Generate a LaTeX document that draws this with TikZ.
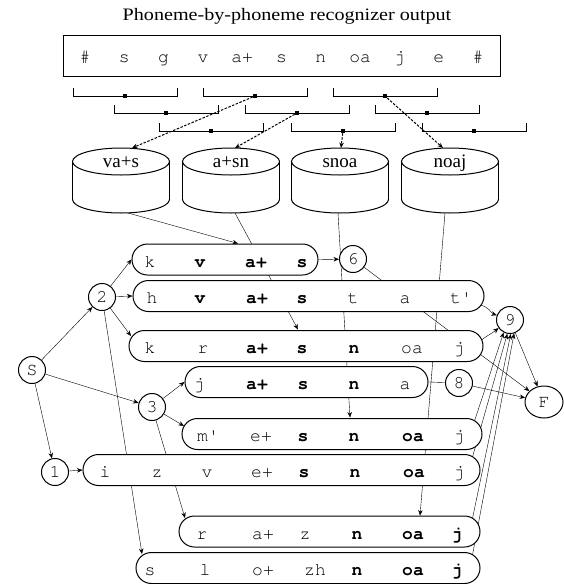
\documentclass[tikz,border=0pt]{standalone}
\usepackage{graphicx}
\usepackage{fontspec}
\setmainfont{Liberation Serif}
\newfontfamily\phonfont{texgyrecursor}[Extension=.otf,UprightFont=*-regular,BoldFont=*-bold]
\usetikzlibrary{shapes.misc,shapes.geometric,arrows.meta,calc}
\pgfdeclarelayer{bg}
\pgfsetlayers{bg,main}

% one bracket of the three-phoneme windows: left x, y, name of its centre dot
\newcommand\brkt[3]{%
  \draw (#1,#2-8) -- (#1,#2) -- (#1+104,#2) -- (#1+104,#2-8);
  \node[dot] (#3) at (#1+52,#2) {};
}

\begin{document}
\begin{tikzpicture}[x=1pt,y=-1pt,line width=1pt,
  arr/.style={-{Stealth[length=5.5pt,width=4.5pt]}},
  dasharr/.style={arr,dash pattern=on 2.5pt off 1.5pt},
  dot/.style={rectangle,fill=black,minimum size=3.5pt,inner sep=0pt},
  state/.style={circle,draw,fill=white,minimum size=27pt,inner sep=0pt,
    font=\phonfont\fontsize{18}{18}\selectfont},
  pathbox/.style={rounded rectangle,draw,fill=white,minimum height=31pt,inner sep=0pt},
  ph/.style={anchor=base,inner sep=0pt,font=\phonfont\fontsize{18}{18}\selectfont},
  drumlabel/.style={anchor=base,inner sep=0pt,font=\fontsize{19}{19}\selectfont},
]
\useasboundingbox (0,0) rectangle (564,584);

% title and recognizer output
\node[anchor=base,inner sep=0pt,font=\fontsize{17.5}{17.5}\selectfont] (title) at (287,20.5)
  {\scalebox{1.15}[1]{Phoneme-by-phoneme recognizer output}};
\node[draw,minimum width=437pt,minimum height=41pt,inner sep=0pt] (outbox) at (281.5,55.5) {};
\foreach \x/\t [count=\k] in {85/\#,124.3/s,163.6/g,202.9/v,242.2/a+,281.5/s,
    320.8/n,360.1/oa,399.4/j,438.7/e,478/\#}
  \node[ph] (o\k) at (\x,62) {\t};

% sliding windows
\brkt{73}{96}{d11}  \brkt{203}{96}{d12}  \brkt{333}{96}{d13}
\brkt{114}{113}{d21} \brkt{245}{113}{d22} \brkt{375}{113}{d23}
\brkt{159}{131}{d31} \brkt{291}{131}{d32} \brkt{422}{131}{d33}

% lexicon drums
\foreach \cx/\nm/\lab in {121/cyl1/va+s,231/cyl2/a+sn,340/cyl3/snoa,450/cyl4/noaj}{
  \fill[white] (\cx,199.5) ellipse[x radius=48.5,y radius=13.5];
  \fill[white] (\cx-48.5,161.5) rectangle (\cx+48.5,199.5);
  \begin{scope}
    \clip (\cx-50,199.5) rectangle (\cx+50,222);
    \draw (\cx,199.5) ellipse[x radius=48.5,y radius=13.5];
  \end{scope}
  \draw (\cx-48.5,161.5) -- (\cx-48.5,199.5) (\cx+48.5,161.5) -- (\cx+48.5,199.5);
  \draw[fill=white] (\cx,161.5) ellipse[x radius=48.5,y radius=13.5];
  \node[drumlabel] (\nm) at (\cx,167) {\lab};
}
\coordinate (a1) at (132,148);
\coordinate (a2) at (235,148);
\coordinate (a3) at (341,148);
\coordinate (a4) at (443,148);
\draw[dasharr] (d12) -- (a1);
\draw[dasharr] (d22) -- (a2);
\draw[dasharr] (d32) -- (a3);
\draw[dasharr] (d13) -- (a4);

% states
\node[state] (S) at (32,370) {S};
\node[state] (n2) at (102,297) {2};
\node[state] (n3) at (152,407) {3};
\node[state] (n1) at (55,472) {1};
\node[state] (n6) at (353,259) {6};
\node[state] (n9) at (510,320) {9};
\node[state] (n8) at (459,383) {8};
\node[state,ellipse,minimum width=38pt,minimum height=32pt] (F) at (544,402) {F};

% word hypotheses
\node[pathbox,minimum width=186pt] (b1) at (225,259.5) {};
\node[pathbox,minimum width=351pt] (b2) at (308.5,296) {};
\node[pathbox,minimum width=354pt] (b3) at (306,346) {};
\node[pathbox,minimum width=243pt] (b4) at (306.5,382) {};
\node[pathbox,minimum width=300pt] (b5) at (332,434) {};
\node[pathbox,minimum width=397pt] (b6) at (281.5,470) {};
\node[pathbox,minimum width=301pt] (b7) at (329.5,531.5) {};
\node[pathbox,minimum width=344pt] (b8) at (308,568) {};

\foreach \x/\t [count=\k] in {150/k,200/{\bfseries v},256/{\bfseries a+},302/{\bfseries s}}
  \node[ph] (p1-\k) at (\x,267) {\t};
\foreach \x/\t [count=\k] in {152/h,200/{\bfseries v},257/{\bfseries a+},302/{\bfseries s},
    353/t,405/a,461/t'}
  \node[ph] (p2-\k) at (\x,303.5) {\t};
\foreach \x/\t [count=\k] in {150/k,203/r,257/{\bfseries a+},302/{\bfseries s},
    354/{\bfseries n},412/oa,459/j}
  \node[ph] (p3-\k) at (\x,353.5) {\t};
\foreach \x/\t [count=\k] in {199/j,257/{\bfseries a+},303/{\bfseries s},
    354/{\bfseries n},405/a}
  \node[ph] (p4-\k) at (\x,389.5) {\t};
\foreach \x/\t [count=\k] in {208/m',261/e+,303/{\bfseries s},354/{\bfseries n},
    413/{\bfseries oa},459/j}
  \node[ph] (p5-\k) at (\x,441.5) {\t};
\foreach \x/\t [count=\k] in {105/i,157/z,207/v,262/e+,304/{\bfseries s},
    355/{\bfseries n},414/{\bfseries oa},459/j}
  \node[ph] (p6-\k) at (\x,477.5) {\t};
\foreach \x/\t [count=\k] in {202/r,263/a+,305/z,357/{\bfseries n},
    413/{\bfseries oa},457/{\bfseries j}}
  \node[ph] (p7-\k) at (\x,539) {\t};
\foreach \x/\t [count=\k] in {150/s,205/l,263/o+,315/zh,357/{\bfseries n},
    413/{\bfseries oa},457/{\bfseries j}}
  \node[ph] (p8-\k) at (\x,575.5) {\t};

% drum outputs and entry points
\coordinate (c1b) at (128,213);
\coordinate (c2b) at (235,213);
\coordinate (c3b) at (338,213);
\coordinate (c4b) at (445,213);
\coordinate (t1) at (238,243.5);
\coordinate (t2) at (298,329.5);
\coordinate (t3) at (350,417.5);
\coordinate (t4) at (420,515.5);
\coordinate (e23) at (131,336);
\coordinate (e28) at (142,554);
\coordinate (e35) at (184,426);
\coordinate (e37) at (185,518);

\begin{pgfonlayer}{bg}
  \draw[arr] (c1b) -- (t1);
  \draw[arr] (c2b) -- (t2);
  \draw[arr] (c3b) -- (t3);
  \draw[arr] (c4b) -- (t4);
  \draw[arr] (S) -- (n2);
  \draw[arr] (S) -- (n3);
  \draw[arr] (S) -- (n1);
  \draw[arr] (n2) -- (b1.west);
  \draw[arr] (n2) -- (b2.west);
  \draw[arr] (n2) -- (e23);
  \draw[arr] (n2) -- (e28);
  \draw[arr] (n3) -- (b4.west);
  \draw[arr] (n3) -- (e35);
  \draw[arr] (n3) -- (e37);
  \draw[arr] (n1) -- (b6.west);
  \draw[arr] (b1.east) -- (n6);
  \draw (b4.east) -- (n8);
  \draw[arr] (n6) -- (F);
  \draw[arr] (n8) -- (F);
  \draw[arr] (n9) -- (F);
  \draw[arr] ($(b2.east)+(-4,9)$) .. controls ($(b2.east)+(6,12)$) and ($(n9.160)+(-6,-2)$) .. (n9.160);
  \draw[arr] ($(b3.east)+(-2,-6)$) .. controls ($(b3.east)+(6,-12)$) and ($(n9.215)+(-6,5)$) .. (n9.215);
  \draw[arr] ($(b5.east)+(-8,-13)$) -- (n9.243);
  \draw[arr] ($(b6.east)+(-8,-13)$) -- (n9.259);
  \draw[arr] ($(b7.east)+(-8,-13)$) -- (n9.273);
  \draw[arr] ($(b8.east)+(-8,-13)$) -- (n9.287);
\end{pgfonlayer}
\end{tikzpicture}
\end{document}
